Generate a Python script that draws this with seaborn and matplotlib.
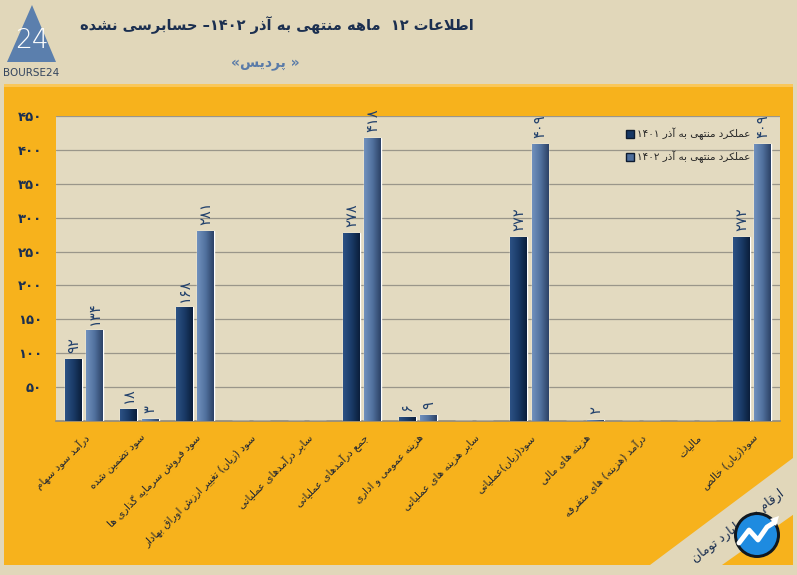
import re
import numpy as np
import pandas as pd
import matplotlib
matplotlib.use("Agg")
import matplotlib.pyplot as plt
from matplotlib.patches import Polygon, Rectangle, Circle
from matplotlib.lines import Line2D
import seaborn as sns

# ---------------- data ----------------
categories = [
    "درآمد سود سهام",
    "سود تضمین شده",
    "سود فروش سرمایه گذاری ها",
    "سود (زیان) تغییر ارزش اوراق بهادار",
    "سایر درآمدهای عملیاتی",
    "جمع درآمدهای عملیاتی",
    "هزینه عمومی و اداری",
    "سایر هزینه های عملیاتی",
    "سود(زیان)عملیاتی",
    "هزینه های مالی",
    "درآمد (هزینه) های متفرقه",
    "مالیات",
    "سود(زیان) خالص",
]
values_1401 = [92, 18, 168, 0, 0, 278, 6, 0, 272, 0, 0, 0, 272]
values_1402 = [134, 3, 281, 0, 0, 418, 9, 0, 409, 2, 0, 0, 409]
series_names = ["عملکرد منتهی به آذر ۱۴۰۱", "عملکرد منتهی به آذر ۱۴۰۲"]
y_ticks = [50, 100, 150, 200, 250, 300, 350, 400, 450]
title_text = "اطلاعات ۱۲  ماهه منتهی به آذر ۱۴۰۲– حسابرسی نشده"
subtitle_text = "« پردیس»"
unit_text = "ارقام به میلیارد تومان"

# ---------------- minimal Arabic/Persian shaping + bidi ----------------
FORMS = {  # isolated, final, initial, medial
    'ا': (0xFE8D, 0xFE8E, None, None), 'آ': (0xFE81, 0xFE82, None, None),
    'ب': (0xFE8F, 0xFE90, 0xFE91, 0xFE92), 'پ': (0xFB56, 0xFB57, 0xFB58, 0xFB59),
    'ت': (0xFE95, 0xFE96, 0xFE97, 0xFE98), 'ث': (0xFE99, 0xFE9A, 0xFE9B, 0xFE9C),
    'ج': (0xFE9D, 0xFE9E, 0xFE9F, 0xFEA0), 'چ': (0xFB7A, 0xFB7B, 0xFB7C, 0xFB7D),
    'ح': (0xFEA1, 0xFEA2, 0xFEA3, 0xFEA4), 'خ': (0xFEA5, 0xFEA6, 0xFEA7, 0xFEA8),
    'د': (0xFEA9, 0xFEAA, None, None), 'ذ': (0xFEAB, 0xFEAC, None, None),
    'ر': (0xFEAD, 0xFEAE, None, None), 'ز': (0xFEAF, 0xFEB0, None, None),
    'ژ': (0xFB8A, 0xFB8B, None, None),
    'س': (0xFEB1, 0xFEB2, 0xFEB3, 0xFEB4), 'ش': (0xFEB5, 0xFEB6, 0xFEB7, 0xFEB8),
    'ص': (0xFEB9, 0xFEBA, 0xFEBB, 0xFEBC), 'ض': (0xFEBD, 0xFEBE, 0xFEBF, 0xFEC0),
    'ط': (0xFEC1, 0xFEC2, 0xFEC3, 0xFEC4), 'ظ': (0xFEC5, 0xFEC6, 0xFEC7, 0xFEC8),
    'ع': (0xFEC9, 0xFECA, 0xFECB, 0xFECC), 'غ': (0xFECD, 0xFECE, 0xFECF, 0xFED0),
    'ف': (0xFED1, 0xFED2, 0xFED3, 0xFED4), 'ق': (0xFED5, 0xFED6, 0xFED7, 0xFED8),
    'ک': (0xFB8E, 0xFB8F, 0xFB90, 0xFB91), 'گ': (0xFB92, 0xFB93, 0xFB94, 0xFB95),
    'ل': (0xFEDD, 0xFEDE, 0xFEDF, 0xFEE0), 'م': (0xFEE1, 0xFEE2, 0xFEE3, 0xFEE4),
    'ن': (0xFEE5, 0xFEE6, 0xFEE7, 0xFEE8), 'ه': (0xFEE9, 0xFEEA, 0xFEEB, 0xFEEC),
    'و': (0xFEED, 0xFEEE, None, None), 'ی': (0xFBFC, 0xFBFD, 0xFBFE, 0xFBFF),
    'ئ': (0xFE89, 0xFE8A, 0xFE8B, 0xFE8C),
}
LAM_ALEF = {'ا': (0xFEFB, 0xFEFC), 'آ': (0xFEF5, 0xFEF6)}


def dual(c):
    return c in FORMS and FORMS[c][2] is not None


def shape(s):
    out = []
    i = 0
    n = len(s)
    while i < n:
        c = s[i]
        if c not in FORMS:
            out.append(c)
            i += 1
            continue
        prev = s[i - 1] if i > 0 else ''
        joins_prev = dual(prev) and not (out and out[-1] in ('\uFEFB', '\uFEFC', '\uFEF5', '\uFEF6'))
        if c == 'ل' and i + 1 < n and s[i + 1] in LAM_ALEF:
            iso, fin = LAM_ALEF[s[i + 1]]
            out.append(chr(fin if joins_prev else iso))
            i += 2
            continue
        nxt = s[i + 1] if i + 1 < n else ''
        joins_next = dual(c) and nxt in FORMS
        iso, fin, ini, med = FORMS[c]
        if joins_prev and joins_next:
            code = med
        elif joins_prev:
            code = fin
        elif joins_next:
            code = ini
        else:
            code = iso
        out.append(chr(code))
        i += 1
    return ''.join(out)


MIRROR = {'(': ')', ')': '(', '«': '»', '»': '«'}
LTR_RE = re.compile(r'[0-9۰-۹A-Za-z]+|[^0-9۰-۹A-Za-z]+')


def rtl(s):
    shaped = shape(s)
    runs = LTR_RE.findall(shaped)
    out = []
    for r in reversed(runs):
        if re.match(r'[0-9۰-۹A-Za-z]', r):
            out.append(r)
        else:
            out.append(''.join(MIRROR.get(c, c) for c in reversed(r)))
    return ''.join(out)


FA = str.maketrans('0123456789', '۰۱۲۳۴۵۶۷۸۹')


def fa(v):
    return str(v).translate(FA)


# ---------------- figure ----------------
W, H = 797, 575
BEIGE = "#E1D7BA"
ORANGE = "#F7B21C"
NAVY = "#1B2F50"
DARK_BAR = "#163764"
LIGHT_BAR = "#4E6E9B"

sns.set_theme(style="white")
plt.rcParams['font.family'] = ['DejaVu Sans']

fig = plt.figure(figsize=(W / 100, H / 100), dpi=100, facecolor=BEIGE)

# background decoration axes in pixel coordinates
bg = fig.add_axes([0, 0, 1, 1], zorder=-5)
bg.set_xlim(0, W)
bg.set_ylim(H, 0)
bg.axis('off')
bg.add_patch(Rectangle((4, 84), 789, 481, facecolor=ORANGE, edgecolor='none', zorder=1))
bg.add_patch(Rectangle((4, 84), 789, 3, facecolor="#F9C75A", edgecolor='none', zorder=2))
bg.add_patch(Polygon([(650, 565), (797, 455), (797, 512), (722, 565)], closed=True,
                     facecolor=BEIGE, edgecolor='none', zorder=2))
bg.text(738, 526, rtl(unit_text), rotation=37, ha='center', va='center',
        fontsize=9, color=NAVY, zorder=3, rotation_mode='anchor')
# bottom-right round logo
bg.add_patch(Circle((757, 535), 23, facecolor="#101820", edgecolor='none', zorder=4))
bg.add_patch(Circle((757, 535), 20, facecolor="#1E8BE0", edgecolor='none', zorder=5))
bg.plot([739, 749, 758, 767, 775], [543, 530, 540, 527, 522], color='white', lw=3.5,
        solid_capstyle='round', zorder=6)
bg.add_patch(Polygon([(770, 519), (779, 516), (776, 526)], closed=True,
                     facecolor='white', edgecolor='none', zorder=6))
# top-left logo
bg.add_patch(Polygon([(7, 62), (56, 62), (32, 5)], closed=True, facecolor="#5B7FAD",
                     edgecolor='none', zorder=2))
bg.text(32, 40, "24", color='white', fontsize=19, ha='center', va='center',
        fontweight='light', zorder=3)
bg.text(31, 73, "BOURSE24", color="#34455E", fontsize=7.5, ha='center', va='center', zorder=3)

# titles
fig.text(277 / W, 1 - 25 / H, rtl(title_text), ha='center', va='center',
         fontsize=10.5, fontweight='bold', color=NAVY)
fig.text(265 / W, 1 - 64 / H, rtl(subtitle_text), ha='center', va='center',
         fontsize=10, fontweight='bold', color="#5A7BA8")

# ---------------- main axes ----------------
ax = fig.add_axes([56 / W, 1 - 421 / H, 724 / W, 305 / H])
ax.set_facecolor("#E3DAC0")

df = pd.DataFrame({
    "cat": categories * 2,
    "value": values_1401 + values_1402,
    "series": [series_names[0]] * len(categories) + [series_names[1]] * len(categories),
})
sns.barplot(data=df, x="cat", y="value", hue="series", order=categories,
            hue_order=series_names, palette=[DARK_BAR, LIGHT_BAR],
            width=0.76, gap=0.2, ax=ax, errorbar=None, legend=False, zorder=3)

ax.set_xlim(-0.5, len(categories) - 0.5)
ax.set_ylim(0, 450)

# 3D-ish gradient on bars
grad_maps = {
    0: matplotlib.colors.LinearSegmentedColormap.from_list("d", ["#2D5285", "#1A3B68", "#0B1E3B"]),
    1: matplotlib.colors.LinearSegmentedColormap.from_list("l", ["#7191BD", "#52729F", "#2C4266"]),
}
grad = np.linspace(0, 1, 64).reshape(1, -1)
for si, cont in enumerate(ax.containers):
    for p in cont.patches:
        h = p.get_height()
        if h <= 0:
            continue
        x0, w = p.get_x(), p.get_width()
        im = ax.imshow(grad, extent=[x0, x0 + w, 0, h], aspect='auto', cmap=grad_maps[si],
                       zorder=4, interpolation='bicubic')
        im.set_clip_path(p)
ax.set_xlim(-0.5, len(categories) - 0.5)
ax.set_ylim(0, 450)
ax.set_aspect('auto')

for si, cont in enumerate(ax.containers):
    vals = values_1401 if si == 0 else values_1402
    ax.bar_label(cont, labels=[fa(v) if v > 0 else '' for v in vals], rotation=90,
                 padding=4, fontsize=10.5, color="#22416C", zorder=6)

ax.set_yticks(y_ticks)
ax.set_yticklabels([fa(v) for v in y_ticks], fontsize=9.5, fontweight='bold', color=NAVY)
ax.tick_params(axis='y', length=0, pad=10)
ax.yaxis.grid(True, color="#9A968A", linewidth=0.9, zorder=0)
ax.set_axisbelow(True)

ax.set_xticks(range(len(categories)))
ax.set_xticklabels([rtl(c) for c in categories], rotation=45, ha='right',
                   rotation_mode='anchor', fontsize=7.5, color="#1D2433")
ax.tick_params(axis='x', length=0, pad=8)
ax.set_xlabel("")
ax.set_ylabel("")
for s in ['left', 'right', 'top']:
    ax.spines[s].set_visible(False)
ax.spines['bottom'].set_color("#8E8A80")
ax.spines['bottom'].set_linewidth(1.2)

handles = [Line2D([0], [0], marker='s', linestyle='none', markersize=6,
                  markerfacecolor=c, markeredgecolor="#0D1B30") for c in (DARK_BAR, LIGHT_BAR)]
ax.legend(handles, [rtl(s) for s in series_names], loc='upper right',
          bbox_to_anchor=(0.965, 0.975), frameon=False, fontsize=7.5,
          handletextpad=0.3, labelspacing=1.0, borderaxespad=0, handlelength=0.8)

fig.savefig("out.png", dpi=100, facecolor=BEIGE)
